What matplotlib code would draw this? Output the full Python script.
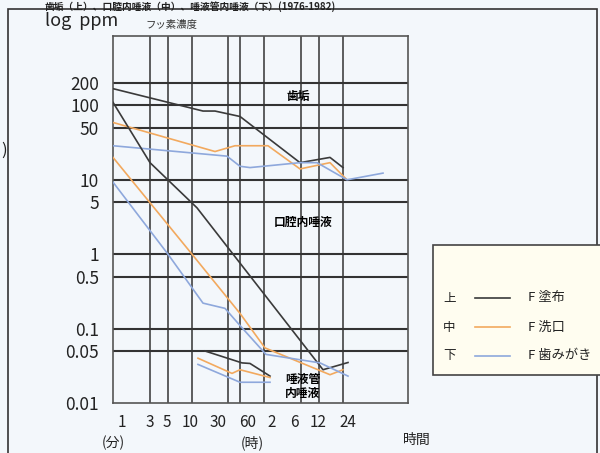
import matplotlib
matplotlib.use("Agg")
import matplotlib.pyplot as plt
from matplotlib.patches import Rectangle
from matplotlib.lines import Line2D
from matplotlib.ticker import NullLocator

plt.rcParams['font.family'] = ['Noto Sans CJK JP', 'DejaVu Sans']

# x axis: position along the time axis (schematic, roughly log time)
time_labels = ['1', '3', '5', '10', '30', '60', '2', '6', '12', '24']
label_pos = [9, 37, 54, 77, 105, 135, 159, 181, 205, 235]
grid_pos = [0, 37, 55, 79, 115, 127, 151, 188, 206, 230]
x_max = 295

# y axis: log ppm
y_ticks = [200, 100, 50, 10, 5, 1, 0.5, 0.1, 0.05, 0.01]
y_tick_labels = ['200', '100', '50', '10', '5', '1', '0.5', '0.1', '0.05', '0.01']
y_min, y_max = 0.01, 857

# 歯垢 (upper group)
plaque_coat_x = [0, 90, 102, 127, 187, 217, 230]
plaque_coat_y = [168, 84, 84, 71, 17, 20, 14.6]
plaque_rinse_x = [0, 102, 122, 155, 187, 217, 233]
plaque_rinse_y = [59, 24, 28.7, 28.7, 14, 17, 10.3]
plaque_brush_x = [0, 114, 127, 137, 187, 204, 234, 270]
plaque_brush_y = [28.7, 20.8, 15.2, 14.6, 17, 17, 10, 12.3]

# 口腔内唾液 (middle group)
oral_coat_x = [0, 37, 84, 210, 235]
oral_coat_y = [110, 17, 4.2, 0.028, 0.035]
oral_rinse_x = [0, 79, 127, 152, 217, 230]
oral_rinse_y = [20, 1.0, 0.16, 0.055, 0.024, 0.028]
oral_brush_x = [0, 55, 90, 112, 127, 153, 207, 235]
oral_brush_y = [9.3, 1.0, 0.22, 0.187, 0.11, 0.045, 0.0346, 0.023]

# 唾液管内唾液 (lower group)
duct_coat_x = [92, 129, 137, 157]
duct_coat_y = [0.05, 0.0346, 0.034, 0.023]
duct_rinse_x = [85, 119, 127, 157]
duct_rinse_y = [0.040, 0.025, 0.028, 0.022]
duct_brush_x = [85, 127, 157]
duct_brush_y = [0.033, 0.019, 0.019]

c_coat = '#3a3a3a'
c_rinse = '#f2a95e'
c_brush = '#8ea8dc'
bg = '#f3f7fb'
grid_c = '#333333'

W, H = 600, 453


def fx(px):
    return px / W


def fy(py):
    return 1 - py / H


fig = plt.figure(figsize=(6, 4.53), dpi=100)
fig.patch.set_facecolor(bg)

ax = fig.add_axes([fx(113), fy(403), (408 - 113) / W, (403 - 36) / H])
ax.set_facecolor(bg)
ax.set_yscale('log')
ax.set_xlim(0, x_max)
ax.set_ylim(y_min, y_max)

for v in y_ticks[:-1]:
    ax.axhline(v, color=grid_c, lw=1.5, zorder=1)
for p in grid_pos[1:]:
    ax.axvline(p, color=grid_c, lw=1.1, zorder=1)
for s in ax.spines.values():
    s.set_color('#555555')
    s.set_linewidth(1.2)

series = [
    (plaque_coat_x, plaque_coat_y, c_coat), (plaque_rinse_x, plaque_rinse_y, c_rinse),
    (plaque_brush_x, plaque_brush_y, c_brush),
    (oral_coat_x, oral_coat_y, c_coat), (oral_rinse_x, oral_rinse_y, c_rinse),
    (oral_brush_x, oral_brush_y, c_brush),
    (duct_coat_x, duct_coat_y, c_coat), (duct_rinse_x, duct_rinse_y, c_rinse),
    (duct_brush_x, duct_brush_y, c_brush),
]
for xs, ys, c in series:
    ax.plot(xs, ys, color=c, lw=1.2, zorder=3)

ax.yaxis.set_minor_locator(NullLocator())
ax.set_yticks(y_ticks)
ax.set_yticklabels(y_tick_labels)
ax.set_xticks(label_pos)
ax.set_xticklabels(time_labels)
ax.tick_params(axis='y', length=0, pad=10, labelsize=12.5, labelcolor='#222222')
ax.tick_params(axis='x', length=0, pad=8, labelsize=11, labelcolor='#222222')

ax.text(185, 133, '歯垢', ha='center', va='center', fontsize=8.5, fontweight='bold', zorder=4)
ax.text(190, 2.7, '口腔内唾液', ha='center', va='center', fontsize=8.5, fontweight='bold', zorder=4)
ax.text(190, 0.021, '唾液管', ha='center', va='center', fontsize=8.5, fontweight='bold', zorder=4)
ax.text(190, 0.0135, '内唾液', ha='center', va='center', fontsize=8.5, fontweight='bold', zorder=4)

# labels around the axes
fig.text(fx(45), fy(21), 'log  ppm', ha='left', va='center', fontsize=13, color='#222222')
fig.text(fx(171), fy(25), 'フッ素濃度', ha='center', va='center', fontsize=7.5, color='#333333')
fig.text(fx(113), fy(443), '(分)', ha='center', va='center', fontsize=10, color='#222222')
fig.text(fx(252), fy(443), '(時)', ha='center', va='center', fontsize=10, color='#222222')
fig.text(fx(403), fy(440), '時間', ha='left', va='center', fontsize=10, color='#222222')
fig.text(fx(45), fy(1), '歯垢（上）、口腔内唾液（中）、唾液管内唾液（下）(1976-1982)',
         ha='left', va='top', fontsize=7, fontweight='bold', color='#222222')
fig.text(fx(1), fy(150), ')', ha='left', va='center', fontsize=12, color='#222222')

# outer frame
fig.add_artist(Rectangle((fx(8), fy(470)), fx(589), (470 - 9) / H, transform=fig.transFigure,
                         fill=False, edgecolor='#333333', lw=1.2))

# legend box
fig.add_artist(Rectangle((fx(433), fy(375)), fx(180), (375 - 245) / H, transform=fig.transFigure,
                         facecolor='#fffdf0', edgecolor='#444444', lw=1.2, zorder=5))
legend_rows = [('上', c_coat, 'F 塗布', 298), ('中', c_rinse, 'F 洗口', 327), ('下', c_brush, 'F 歯みがき', 356)]
for pos_lab, c, name, py in legend_rows:
    fig.text(fx(443), fy(py), pos_lab, ha='left', va='center', fontsize=9, color='#222222', zorder=6)
    fig.add_artist(Line2D([fx(475), fx(510)], [fy(py), fy(py)], transform=fig.transFigure,
                          color=c, lw=1.2, zorder=6))
    fig.text(fx(528), fy(py), name, ha='left', va='center', fontsize=9.5, color='#222222', zorder=6)

fig.savefig('out.png', dpi=100, facecolor=bg)
